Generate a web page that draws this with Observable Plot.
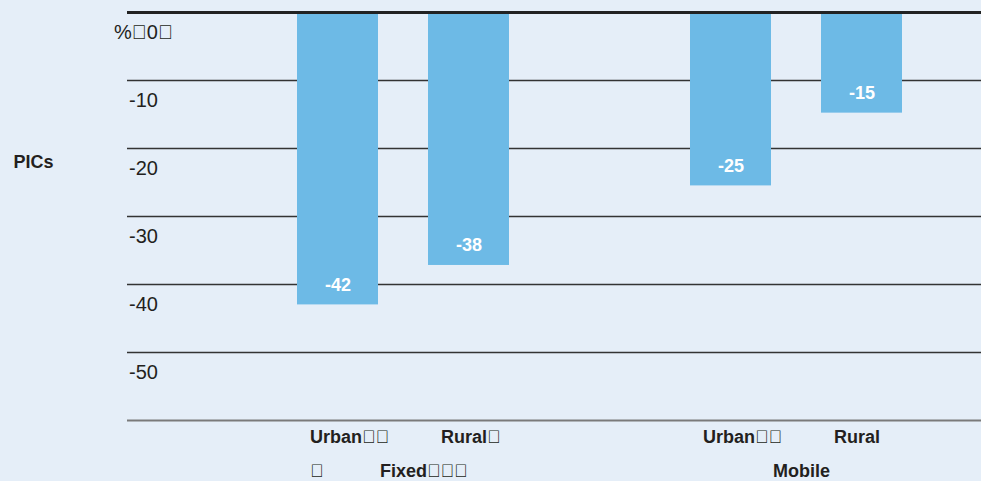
<!DOCTYPE html>
<html><head><meta charset="utf-8">
<script src="https://cdn.jsdelivr.net/npm/d3@7"></script>
<script src="https://cdn.jsdelivr.net/npm/@observablehq/plot@0.6"></script>
<style>
html,body{margin:0;padding:0;background:#e5eef8;}
#chart svg{display:block}
</style></head><body><div id="chart"></div>
<script>
// slots on the x axis (one empty slot separates the two groups)
const slots = ["Urban-F", "Rural-F", "gap", "Urban-M", "Rural-M"];
const barCategories = ["Urban-F", "Rural-F", "Urban-M", "Rural-M"];
const barValues = [-43, -37.2, -25.5, -14.8];
const barLabels = ["-42", "-38", "-25", "-15"];
const categoryLabels = ["Urban\uE000\uE000\n\uE000", "Rural\uE000", "Urban\uE000\uE000", "Rural"];
const groupAnchors = ["Urban-F", "Urban-M"];
const groupLabels = ["Fixed\uE000\uE000\uE000", "Mobile"];
const yTicks = [0, -10, -20, -30, -40, -50, -60];
const yTickLabels = ["%\uE0000\uE000", "-10", "-20", "-30", "-40", "-50", ""];
const yAxisTitle = "PICs";

const bars = barCategories.map((c, i) => ({cat: c, value: barValues[i], label: barLabels[i]}));
const ink = "#231f20";

const chart = Plot.plot({
  width: 981,
  height: 481,
  marginTop: 12,
  marginBottom: 61,
  marginLeft: 127,
  marginRight: 0,
  style: {background: "#e5eef8", fontFamily: "'Liberation Sans', Arial, sans-serif", color: ink},
  x: {type: "band", domain: slots, range: [296, 902], paddingInner: 0.382, paddingOuter: 0, axis: null},
  y: {domain: [-60, 0], axis: null},
  marks: [
    Plot.ruleY(yTicks.filter(d => d !== 0 && d !== -60), {stroke: "#333", strokeWidth: 1.5}),
    Plot.ruleY([-60], {stroke: "#7a7a7a", strokeWidth: 2}),
    Plot.barY(bars, {x: "cat", y: "value", fill: "#6dbae6"}),
    Plot.ruleY([0], {stroke: "#222", strokeWidth: 3}),
    Plot.text(yTicks, {y: d => d, text: (d, i) => yTickLabels[i], frameAnchor: "left", textAnchor: "middle", dx: 16, dy: 20, fontSize: 20, fill: ink}),
    Plot.text(bars, {x: "cat", y: "value", text: "label", dy: -20, fill: "white", fontWeight: "bold", fontSize: 18}),
    Plot.text(barCategories, {x: d => d, text: (d, i) => categoryLabels[i], frameAnchor: "bottom", dy: -1.5, dx: -28, textAnchor: "start", lineAnchor: "top", lineHeight: 1.9, fontWeight: "bold", fontSize: 18, fill: ink}),
    Plot.text(groupAnchors, {x: d => d, text: (d, i) => groupLabels[i], frameAnchor: "bottom", dy: 44, dx: 42, textAnchor: "start", lineAnchor: "top", fontWeight: "bold", fontSize: 18, fill: ink}),
    Plot.text([yAxisTitle], {frameAnchor: "left", dx: -114, dy: -54, textAnchor: "start", fontWeight: "bold", fontSize: 18, fill: ink})
  ]
});
document.getElementById("chart").append(chart);
</script></body></html>
